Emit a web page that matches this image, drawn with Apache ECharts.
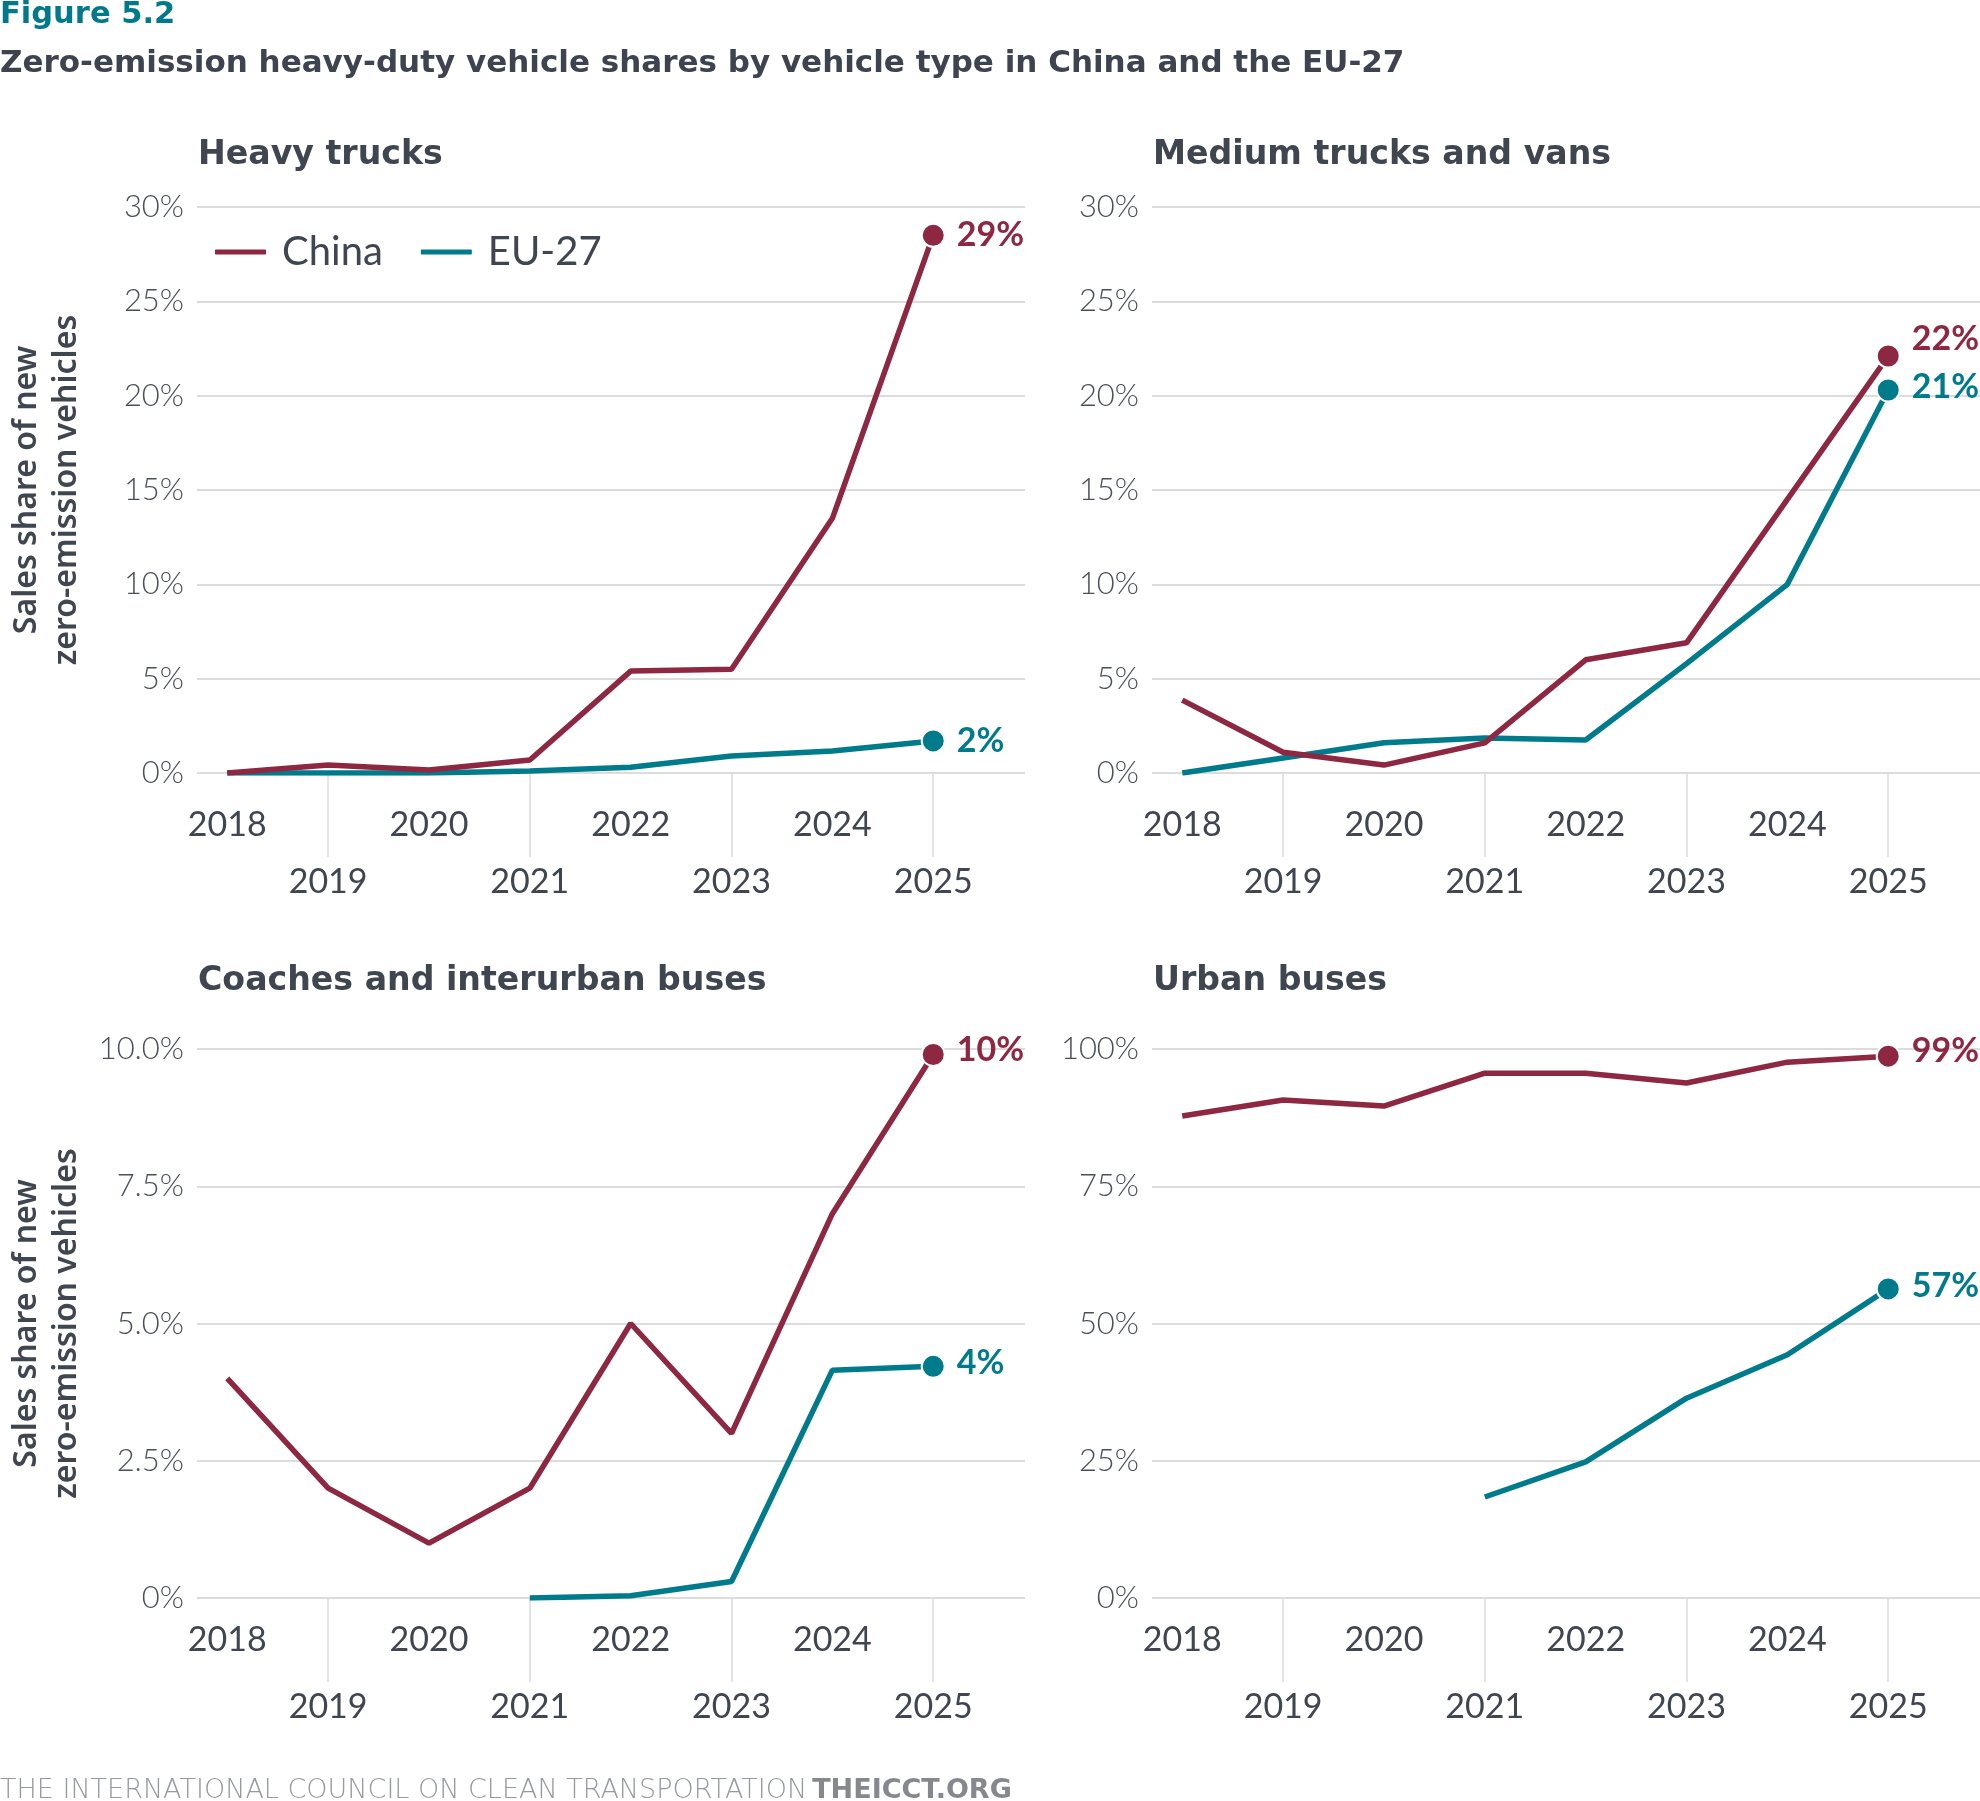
<!DOCTYPE html>
<html><head><meta charset="utf-8">
<script src="https://cdn.jsdelivr.net/npm/echarts@6/dist/echarts.min.js"></script>
<style>html,body{margin:0;padding:0;background:#fff}#c{width:1980px;height:1801px}</style>
</head><body><div id="c"></div>
<script>
// ---- data ----
const years = [2018, 2019, 2020, 2021, 2022, 2023, 2024, 2025];
const evenYears = [2018, 2020, 2022, 2024];
const oddYears = [2019, 2021, 2023, 2025];

const heavyChina  = [0, 0.42, 0.16, 0.69, 5.4, 5.5, 13.5, 28.5];
const heavyEU     = [0, 0, 0, 0.1, 0.3, 0.9, 1.17, 1.7];
const mediumChina = [3.86, 1.1, 0.42, 1.6, 6.0, 6.9, 14.5, 22.1];
const mediumEU    = [0, 0.8, 1.6, 1.85, 1.75, 5.8, 10.0, 20.3];
const coachChina  = [4.0, 2.0, 1.0, 2.0, 5.0, 3.0, 7.0, 9.9];
const coachEU     = [null, null, null, 0, 0.04, 0.3, 4.15, 4.22];
const urbanChina  = [87.8, 90.7, 89.6, 95.6, 95.6, 93.8, 97.6, 98.7];
const urbanEU     = [null, null, null, 18.4, 24.8, 36.4, 44.3, 56.3];

const panelTitles = ['Heavy trucks', 'Medium trucks and vans', 'Coaches and interurban buses', 'Urban buses'];
const endLabelsChina = ['29%', '22%', '10%', '99%'];
const endLabelsEU = ['2%', '21%', '4%', '57%'];
const yMax = [30, 30, 10, 100];
const yInterval = [5, 5, 2.5, 25];
const yTickLabels = [
  ['0%', '5%', '10%', '15%', '20%', '25%', '30%'],
  ['0%', '5%', '10%', '15%', '20%', '25%', '30%'],
  ['0%', '2.5%', '5.0%', '7.5%', '10.0%'],
  ['0%', '25%', '50%', '75%', '100%']
];
const seriesNames = ['China', 'EU-27'];
const figureLabel = 'Figure 5.2';
const figureTitle = 'Zero-emission heavy-duty vehicle shares by vehicle type in China and the EU-27';
const yAxisTitle = 'Sales share of new\nzero-emission vehicles';
const footerA = 'THE INTERNATIONAL COUNCIL ON CLEAN TRANSPORTATION';
const footerB = 'THEICCT.ORG';

// ---- style / layout ----
const MAROON = '#8e2741';
const TEAL = '#007b8b';
const TXT = '#3f4650';
const GRIDC = '#dcdcdc';
const HEAD = 'DejaVu Sans';
const grids = [
  {left: 197, top: 207, width: 828, height: 566},
  {left: 1152, top: 207, width: 828, height: 566},
  {left: 197, top: 1049, width: 828, height: 549},
  {left: 1152, top: 1049, width: 828, height: 549}
];
const evenMargin = [35, 35, 25, 25];
const oddMargin = [92, 92, 92, 92];
const titleTops = [139, 139, 965, 965];
const chinaLabelOffset = [[0, 0], [0, -17], [0, -4], [0, -5]];
const euLabelOffset = [[0, 0], [0, -3], [0, -3], [0, -3]];
const chinaData = [heavyChina, mediumChina, coachChina, urbanChina];
const euData = [heavyEU, mediumEU, coachEU, urbanEU];

function buildData(arr, label, color, offset) {
  const pts = [];
  years.forEach((y, k) => { if (arr[k] != null) pts.push({value: [y, arr[k]]}); });
  const last = pts[pts.length - 1];
  last.label = {
    show: true, position: 'right', distance: 11, offset: offset,
    formatter: label, color: color, fontFamily: 'Lato', fontWeight: 700, fontSize: 34
  };
  return pts;
}

const xAxes = [], yAxes = [], series = [], titles = [];
titles.push({text: figureLabel, left: 0, top: 0, padding: 0,
  textStyle: {fontFamily: HEAD, fontWeight: 700, fontSize: 30.5, color: '#00798a'}});
titles.push({text: figureTitle, left: 0, top: 48, padding: 0,
  textStyle: {fontFamily: HEAD, fontWeight: 700, fontSize: 31, color: '#3d4450'}});
titles.push({text: '{a|' + footerA + '} {b|' + footerB + '}', left: 0, top: 1777, padding: 0,
  textStyle: {rich: {
    a: {fontFamily: 'DejaVu Sans', fontWeight: 200, fontSize: 27, color: '#96999e'},
    b: {fontFamily: 'DejaVu Sans', fontWeight: 700, fontSize: 27, color: '#85888d'}
  }}});

for (let i = 0; i < 4; i++) {
  titles.push({text: panelTitles[i], left: grids[i].left + 1, top: titleTops[i], padding: 0,
    textStyle: {fontFamily: HEAD, fontWeight: 700, fontSize: 33.2, color: TXT}});
  const common = {
    type: 'value', gridIndex: i, min: 2017.7, max: 2025.91, position: 'bottom', offset: 0,
    axisLine: {show: false}, splitLine: {show: false}
  };
  xAxes.push(Object.assign({}, common, {
    axisTick: {show: false},
    axisLabel: {customValues: evenYears, margin: evenMargin[i], fontFamily: 'Lato', fontSize: 34, color: TXT,
      formatter: v => String(v)}
  }));
  xAxes.push(Object.assign({}, common, {
    axisTick: {show: true, customValues: oddYears, length: 84, lineStyle: {color: GRIDC, width: 1.5}},
    axisLabel: {customValues: oddYears, margin: oddMargin[i], fontFamily: 'Lato', fontSize: 34, color: TXT,
      formatter: v => String(v)}
  }));
  const labels = yTickLabels[i], intv = yInterval[i];
  const ya = {
    type: 'value', gridIndex: i, min: 0, max: yMax[i], interval: intv,
    axisLine: {show: false}, axisTick: {show: false},
    splitLine: {lineStyle: {color: GRIDC, width: 2}},
    axisLabel: {margin: 13, fontFamily: 'Lato', fontWeight: 300, fontSize: 31, color: '#4a5059',
      formatter: v => labels[Math.round(v / intv)]}
  };
  if (i % 2 === 0) {
    Object.assign(ya, {name: yAxisTitle, nameLocation: 'middle', nameGap: 110, nameRotate: 90,
      nameTextStyle: {fontFamily: 'Noto Sans', fontWeight: 600, fontSize: 32, lineHeight: 40, color: TXT}});
  }
  yAxes.push(ya);

  const mk = (name, arr, color, lbl, off, z) => ({
    type: 'line', name: name, xAxisIndex: 2 * i, yAxisIndex: i,
    data: buildData(arr, lbl, color, off),
    color: color,
    symbol: (val) => (val[0] === years[years.length - 1] ? 'circle' : 'none'),
    symbolSize: 23, showSymbol: true,
    lineStyle: {color: color, width: 5.5},
    itemStyle: {color: color, borderColor: '#fff', borderWidth: 2},
    emphasis: {disabled: true},
    z: z, animation: false
  });
  series.push(mk(seriesNames[1], euData[i], TEAL, endLabelsEU[i], euLabelOffset[i], 3));
  series.push(mk(seriesNames[0], chinaData[i], MAROON, endLabelsChina[i], chinaLabelOffset[i], 4));
}

const chart = echarts.init(document.getElementById('c'), null, {renderer: 'canvas'});
chart.setOption({
  backgroundColor: '#fff',
  animation: false,
  title: titles,
  legend: {
    data: seriesNames, left: 208, top: 227, icon: 'roundRect', itemWidth: 53, itemHeight: 7, itemGap: 36,
    textStyle: {fontFamily: 'Lato', fontSize: 40, color: TXT, padding: [0, 0, 0, 10]}
  },
  grid: grids,
  xAxis: xAxes,
  yAxis: yAxes,
  series: series
});
</script></body></html>
